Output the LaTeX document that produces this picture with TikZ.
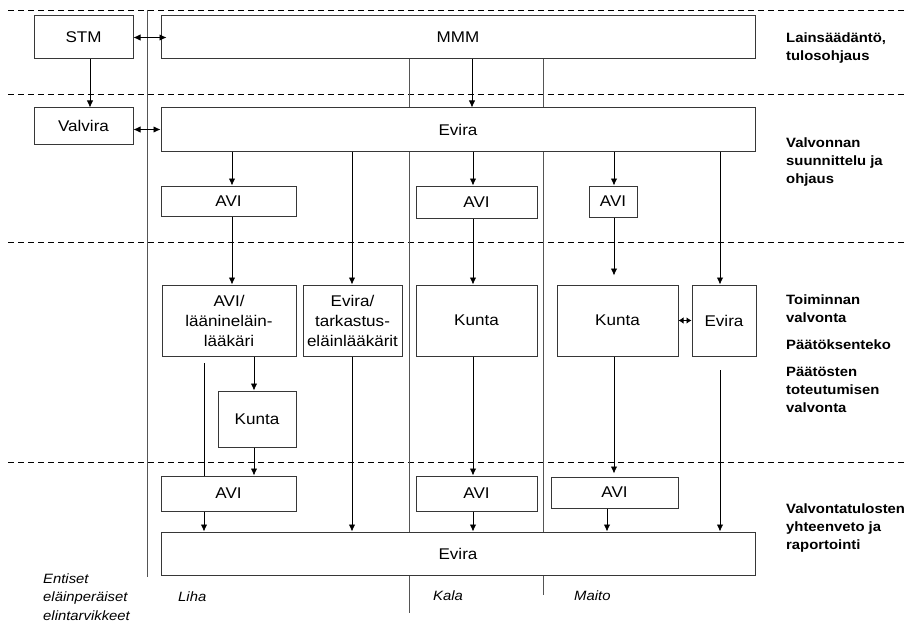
\documentclass[tikz,border=0pt]{standalone}
\usepackage{fontspec}
\setmainfont{Liberation Sans}[FakeStretch=1.1]
\usetikzlibrary{arrows.meta}
\definecolor{bordc}{RGB}{55,55,55}
\definecolor{divc}{RGB}{85,85,85}
\begin{document}
\begin{tikzpicture}[x=1pt,y=-1pt,
 box/.style={draw=bordc, line width=1pt, fill=white, align=center, inner sep=1pt, font=\fontsize{15.5}{20}\selectfont},
 arr/.style={draw=black, line width=0.85pt, -{Latex[length=7pt,width=6.5pt]}},
 arrb/.style={draw=black, line width=0.85pt, {Latex[length=7pt,width=6.5pt]}-{Latex[length=7pt,width=6.5pt]}},
 arrs/.style={draw=black, line width=0.85pt, {Latex[length=5pt,width=6.5pt]}-{Latex[length=5pt,width=6.5pt]}},
 plain/.style={draw=black, line width=0.85pt},
 divider/.style={draw=divc, line width=1pt},
 sep/.style={draw=black, line width=0.9pt, dash pattern=on 6pt off 4pt},
 lab/.style={font=\bfseries\fontsize{13.5}{18}\selectfont, align=left, anchor=west, inner sep=0pt},
 col/.style={font=\itshape\fontsize{13.5}{18.5}\selectfont, align=left, anchor=west, inner sep=0pt}]

\useasboundingbox (0,0) rectangle (907,623);
\fill[white] (0,0) rectangle (907,623);

% dashed level separators
\draw[sep] (8,10) -- (907,10);
\draw[sep] (8,94) -- (907,94);
\draw[sep] (8,242) -- (907,242);
\draw[sep] (8,462) -- (907,462);

% column dividers
\draw[divider] (147,10) -- (147,577);
\draw[divider] (409,59) -- (409,613);
\draw[divider] (543,59) -- (543,595);

% boxes
\node[box, minimum width=99pt, minimum height=43pt] (STM) at (83.5,37.5) {STM};
\node[box, minimum width=594pt, minimum height=43pt] (MMM) at (458,37.5) {MMM};
\node[box, minimum width=99pt, minimum height=36pt] (Valvira) at (83.5,126) {Valvira};
\node[box, minimum width=594pt, minimum height=43pt] (Evira1) at (458,129.5) {Evira};

\node[box, minimum width=135pt, minimum height=30pt] (AVIa) at (228.5,201) {AVI};
\node[box, minimum width=121pt, minimum height=32pt] (AVIb) at (476.5,202) {AVI};
\node[box, minimum width=48pt, minimum height=31pt] (AVIc) at (613,201.5) {AVI};

\node[box, minimum width=134pt, minimum height=71pt] (AVIL) at (229,320.5) {AVI/\\läänineläin-\\lääkäri};
\node[box, minimum width=99pt, minimum height=71pt] (EviraT) at (352.5,320.5) {Evira/\\tarkastus-\\eläinlääkärit};
\node[box, minimum width=121pt, minimum height=71pt] (KuntaK) at (476.5,320.5) {Kunta};
\node[box, minimum width=121pt, minimum height=71pt] (KuntaM) at (617.5,320.5) {Kunta};
\node[box, minimum width=64pt, minimum height=71pt] (EviraS) at (724,320.5) {Evira};

\node[box, minimum width=78pt, minimum height=56pt] (KuntaL) at (257,419) {Kunta};

\node[box, minimum width=135pt, minimum height=35pt] (AVI3a) at (228.5,493.5) {AVI};
\node[box, minimum width=121pt, minimum height=35pt] (AVI3b) at (476.5,493.5) {AVI};
\node[box, minimum width=127pt, minimum height=31pt] (AVI3c) at (614.5,492.5) {AVI};

\node[box, minimum width=594pt, minimum height=43pt] (Evira2) at (458,553.5) {Evira};

% column x positions
\coordinate (c90) at (90,0);
\coordinate (c472) at (472,0);
\coordinate (c232) at (232,0);
\coordinate (c352) at (352,0);
\coordinate (c473) at (473,0);
\coordinate (c614) at (614,0);
\coordinate (c720) at (720,0);
\coordinate (c254) at (254,0);
\coordinate (c204) at (204,0);
\coordinate (c607) at (607,0);
\coordinate (f1) at (204,363);
\coordinate (f2) at (720,370);

% connectors
\draw[arrb] (STM.east) -- ([xshift=6pt]MMM.west);
\draw[arrb] (Valvira.east |- Evira1.west) -- (Evira1.west);
\draw[arr] (STM.south -| c90) -- (Valvira.north -| c90);
\draw[arr] (MMM.south -| c472) -- (Evira1.north -| c472);

\draw[arr] (Evira1.south -| c232) -- (AVIa.north -| c232);
\draw[arr] (Evira1.south -| c352) -- (EviraT.north -| c352);
\draw[arr] (Evira1.south -| c473) -- (AVIb.north -| c473);
\draw[arr] (Evira1.south -| c614) -- (AVIc.north -| c614);
\draw[arr] (Evira1.south -| c720) -- (EviraS.north -| c720);

\draw[arr] (AVIa.south -| c232) -- (AVIL.north -| c232);
\draw[arr] (AVIb.south -| c473) -- (KuntaK.north -| c473);
\draw[arr, shorten >=9pt] (AVIc.south -| c614) -- (KuntaM.north -| c614);
\draw[arrs] (KuntaM.east) -- (EviraS.west);

\draw[arr] (AVIL.south -| c254) -- (KuntaL.north -| c254);
\draw[plain] (f1) -- (AVI3a.north -| f1);
\draw[arr] (KuntaL.south -| c254) -- (AVI3a.north -| c254);
\draw[arr] (EviraT.south -| c352) -- (Evira2.north -| c352);
\draw[arr] (KuntaK.south -| c473) -- (AVI3b.north -| c473);
\draw[arr, shorten >=3pt] (KuntaM.south -| c614) -- (AVI3c.north -| c614);
\draw[arr] (f2) -- (Evira2.north -| f2);

\draw[arr] (AVI3a.south -| c204) -- (Evira2.north -| c204);
\draw[arr] (AVI3b.south -| c473) -- (Evira2.north -| c473);
\draw[arr] (AVI3c.south -| c607) -- (Evira2.north -| c607);

% level labels
\node[lab] (L1) at (786,48.5) {Lainsäädäntö,\\tulosohjaus};
\node[lab] (L2) at (786,162.5) {Valvonnan\\suunnittelu ja\\ohjaus};
\node[lab] (L3) at (786,309) {Toiminnan\\valvonta};
\node[lab] (L4) at (786,345) {Päätöksenteko};
\node[lab] (L5) at (786,389.5) {Päätösten\\toteutumisen\\valvonta};
\node[lab] (L6) at (786,528.5) {Valvontatulosten\\yhteenveto ja\\raportointi};

% column labels
\node[col] (C0) at (43,597) {Entiset\\eläinperäiset\\elintarvikkeet};
\node[col] (C1) at (178,597) {Liha};
\node[col] (C2) at (433,596) {Kala};
\node[col] (C3) at (574,596) {Maito};
\end{tikzpicture}
\end{document}
